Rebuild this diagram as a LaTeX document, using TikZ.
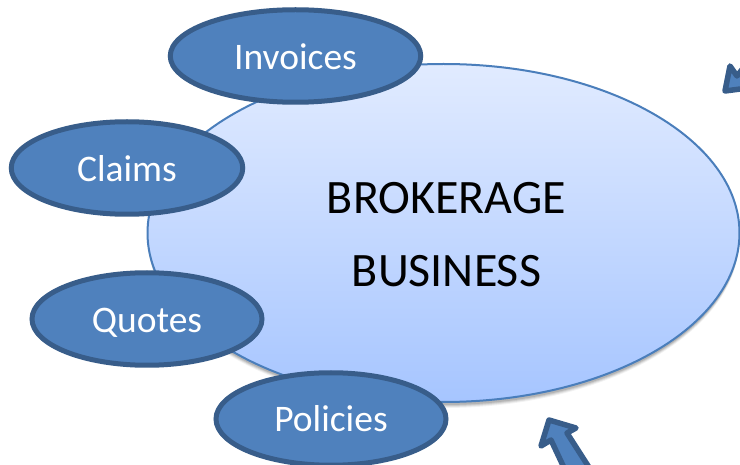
\documentclass[tikz,border=0pt]{standalone}
\usepackage{fontspec}
\setmainfont{Carlito}
\usetikzlibrary{shapes.geometric,shadings}
\definecolor{ovalfill}{HTML}{4F81BD}
\definecolor{ovalline}{HTML}{385D8A}
\definecolor{bigline}{HTML}{4A7EBB}
\definecolor{bigtop}{HTML}{E1EBFF}
\definecolor{bigbot}{HTML}{A6C5FF}
\tikzset{
  tagoval/.style={ellipse,draw=ovalline,fill=ovalfill,line width=5pt,inner sep=0pt,outer sep=0pt,
    minimum width=232pt,minimum height=92.5pt,text=white,font=\fontsize{37.5pt}{40pt}\selectfont},
  bigoval/.style={ellipse,draw=bigline,line width=2pt,top color=bigtop,bottom color=bigbot,inner sep=0pt,outer sep=0pt,
    minimum width=592pt,minimum height=338pt},
  bigtext/.style={align=center,text=black,font=\fontsize{48pt}{73pt}\selectfont},
  bluearrow/.style={draw=ovalline,fill=ovalfill,line width=5.5pt,line join=round}
}
\begin{document}
\begin{tikzpicture}[x=1pt,y=-1pt]
\useasboundingbox (0,0) rectangle (740,465);
\clip (0,0) rectangle (740,465);
\fill[white] (0,0) rectangle (740,465);
% soft shadow of the big oval
\foreach \d/\o in {5/0.05,4/0.07,3/0.09,2/0.11}{
  \fill[black,opacity=\o] (443.5,233+\d) ellipse [x radius=296, y radius=170];
}
\node[bigoval] (big) at (443.5,233) {};
\node[bigtext] (title) at (446.5,235) {BROKERAGE\\BUSINESS};
\node[tagoval,minimum width=250.5pt,text height=28pt,text depth=0pt] (invoices) at (295.5,56) {Invoices};
\node[tagoval,minimum width=231.5pt,text height=28pt,text depth=0pt] (claims) at (127,168) {Claims};
\node[tagoval,minimum width=230pt,text height=28pt,text depth=0pt] (quotes) at (147,319) {Quotes};
\node[tagoval,minimum width=230pt] (policies) at (331,419) {Policies};
% partly visible block arrows
\draw[bluearrow] (549,420) -- (576,428) -- (567,433) -- (592,472) -- (566,472) -- (551,440) -- (541,446) -- cycle;
\draw[bluearrow] (730,66) -- (725,91) -- (748,88) -- (748,62) -- (737,76) -- cycle;
\end{tikzpicture}
\end{document}
